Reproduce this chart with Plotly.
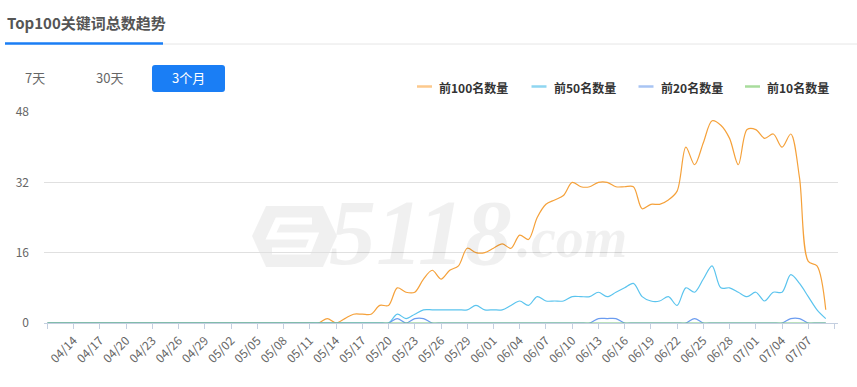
import plotly.graph_objects as go
import pandas as pd

# ---------------- data ----------------
dates = [d.strftime("%Y-%m-%d") for d in pd.date_range("2023-04-11", "2023-07-09")]

top100 = [0] * 32 + [1, 0, 1, 2, 2, 2, 4, 4, 8, 7, 7, 10, 12, 10, 12, 13, 17, 16, 16, 17,
                     18, 17, 20, 19, 24, 27, 28, 29, 32, 31, 31, 32, 32, 31, 31, 31, 26, 27,
                     27, 28, 30, 40, 36, 41, 46, 45, 42, 36, 44, 44, 42, 43, 40, 43, 33, 14,
                     13, 3]
top50 = [0] * 40 + [2, 1, 2, 3, 3, 3, 3, 3, 3, 4, 3, 3, 3, 4, 5, 4, 6, 5, 5, 5, 6, 6, 6, 7,
                    6, 7, 8, 9, 6, 5, 5, 6, 4, 8, 7, 10, 13, 8, 8, 7, 6, 7, 5, 7, 7, 11, 9,
                    6, 3, 1]
top20 = [0] * 40 + [1, 0, 1, 1] + [0] * 19 + [1, 1, 1] + [0] * 8 + [1] + [0] * 10 + [1, 1, 0, 0, 0]
top10 = [0] * 90

series_names = ["前100名数量", "前50名数量", "前20名数量", "前10名数量"]
series_values = [top100, top50, top20, top10]
line_colors = ["#f5a13a", "#5bc4ee", "#6b9cf0", "#78c67c"]
legend_colors = ["#fcc98c", "#8fd6f1", "#a8c4f3", "#a8dc9c"]

tick_labels = ["04/14", "04/17", "04/20", "04/23", "04/26", "04/29", "05/02", "05/05",
               "05/08", "05/11", "05/14", "05/17", "05/20", "05/23", "05/26", "05/29",
               "06/01", "06/04", "06/07", "06/10", "06/13", "06/16", "06/19", "06/22",
               "06/25", "06/28", "07/01", "07/04", "07/07"]
y_ticks = [0, 16, 32, 48]

title_text = "Top100关键词总数趋势"
buttons = ["7天", "30天", "3个月"]

# ---------------- layout helpers ----------------
W, H = 857, 387
L, R, T, B = 44, 838, 112, 323


def px(x):
    return (x - L) / (R - L)


def py(y):
    return (B - y) / (B - T)


FONT = "Noto Sans CJK SC, Microsoft YaHei, sans-serif"

fig = go.Figure()
for name, vals, col in zip(series_names, series_values, line_colors):
    fig.add_trace(go.Scatter(
        x=dates, y=vals, mode="lines", name=name, showlegend=False,
        line=dict(color=col, width=1.2, shape="spline", smoothing=0.9),
        hoverinfo="x+y",
    ))

tickvals = ["2023-04-11"] + ["2023-" + t.replace("/", "-") for t in tick_labels] + ["2023-07-10"]
ticktext = [""] + tick_labels + [""]

shapes = []
annotations = []

# title + tabs underline
annotations.append(dict(xref="paper", yref="paper", x=px(5), y=py(22), xanchor="left",
                        yanchor="middle", showarrow=False, text="<b>" + title_text + "</b>",
                        font=dict(family=FONT, size=15, color="#555555")))
shapes.append(dict(type="line", xref="paper", yref="paper", x0=px(163), x1=px(870),
                   y0=py(44), y1=py(44), line=dict(color="#e6e6e6", width=1)))
shapes.append(dict(type="line", xref="paper", yref="paper", x0=px(5), x1=px(163),
                   y0=py(43.5), y1=py(43.5), line=dict(color="#1a7ef5", width=2.5)))


def rrect_path(x0, y0, x1, y1, r):
    pts = [("M", x0 + r, y0), ("L", x1 - r, y0), ("Q", x1, y0, x1, y0 + r),
           ("L", x1, y1 - r), ("Q", x1, y1, x1 - r, y1), ("L", x0 + r, y1),
           ("Q", x0, y1, x0, y1 - r), ("L", x0, y0 + r), ("Q", x0, y0, x0 + r, y0)]
    s = ""
    for p in pts:
        cmd = p[0]
        coords = p[1:]
        parts = []
        for i in range(0, len(coords), 2):
            parts.append("%.5f,%.5f" % (px(coords[i]), py(coords[i + 1])))
        s += cmd + " " + " ".join(parts) + " "
    return s + "Z"


shapes.append(dict(type="path", xref="paper", yref="paper",
                   path=rrect_path(152, 65, 225, 92, 3),
                   fillcolor="#1a7ef5", line=dict(width=0)))
btn_centers = [35, 109, 188.5]
for b, cx in zip(buttons, btn_centers):
    annotations.append(dict(xref="paper", yref="paper", x=px(cx), y=py(78), xanchor="center",
                            yanchor="middle", showarrow=False, text=b,
                            font=dict(family=FONT, size=13,
                                      color="#ffffff" if b == "3个月" else "#666666")))

# manual legend
leg_x = [417, 531.5, 638.5, 745]
for name, col, lx in zip(series_names, legend_colors, leg_x):
    shapes.append(dict(type="line", xref="paper", yref="paper", x0=px(lx), x1=px(lx + 15),
                       y0=py(86.5), y1=py(86.5), line=dict(color=col, width=2.5)))
    annotations.append(dict(xref="paper", yref="paper", x=px(lx + 20), y=py(87),
                            xanchor="left", yanchor="middle", showarrow=False,
                            text="<b>" + name + "</b>",
                            font=dict(family=FONT, size=12, color="#333333")))

# watermark
wm = "rgba(0,0,0,0.06)"
hexpts = [(266, 206), (323, 206), (337, 236), (323, 267), (266, 267), (252, 236)]
hp = "M " + " L ".join("%.5f,%.5f" % (px(a), py(b)) for a, b in hexpts) + " Z"
shapes.append(dict(type="path", xref="paper", yref="paper", path=hp, fillcolor=wm,
                   line=dict(width=0), layer="below"))
spts = [(312, 221), (278, 221), (271, 236), (314, 236), (308, 251), (272, 251)]
sp = "M " + " L ".join("%.5f,%.5f" % (px(a), py(b)) for a, b in spts)
shapes.append(dict(type="path", xref="paper", yref="paper", path=sp,
                   line=dict(color="white", width=7), layer="below"))
annotations.append(dict(xref="paper", yref="paper", x=px(420), y=py(232), xanchor="center",
                        yanchor="middle", showarrow=False, text="<b>5118</b>",
                        font=dict(family="Liberation Serif", size=94, color=wm, style="italic")))
annotations.append(dict(xref="paper", yref="paper", x=px(572), y=py(238), xanchor="center",
                        yanchor="middle", showarrow=False, text="<b>.com</b>",
                        font=dict(family="Liberation Serif", size=56, color=wm, style="italic")))

fig.update_layout(
    width=W, height=H,
    margin=dict(l=L, r=W - R, t=T, b=H - B, pad=0),
    paper_bgcolor="white", plot_bgcolor="white",
    showlegend=False,
    font=dict(family=FONT, size=12, color="#666666"),
    shapes=shapes, annotations=annotations,
    xaxis=dict(
        type="date",
        range=["2023-04-10 14:24", "2023-07-10 09:36"],
        tickmode="array", tickvals=tickvals, ticktext=ticktext,
        tickangle=-45, tickfont=dict(size=12, color="#666666", family=FONT),
        showgrid=False, showline=True, linecolor="#c4cfe0", linewidth=1,
        ticks="outside", ticklen=5, tickcolor="#c4cfe0", zeroline=False,
    ),
    yaxis=dict(
        range=[0, 48], tickmode="array", tickvals=y_ticks,
        tickfont=dict(size=12, color="#666666", family=FONT),
        showgrid=True, gridcolor="#e0e0e0", gridwidth=1,
        zeroline=False, showline=False, ticks="", ticklabelstandoff=14,
    ),
)

fig.write_html("out.html", config={"displayModeBar": False},
               post_script="document.body.style.margin='0';document.body.style.overflow='hidden';")
